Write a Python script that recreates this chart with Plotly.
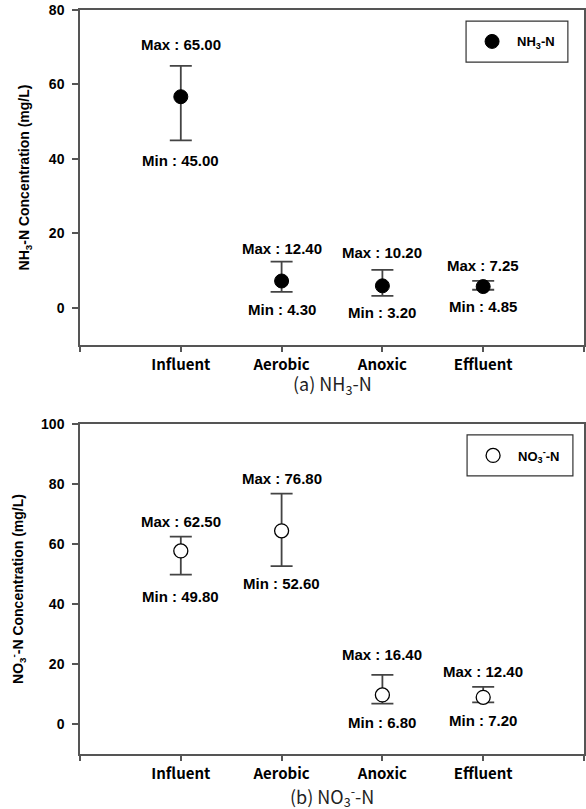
import plotly.graph_objects as go

# ---------------- data ----------------
categories = ["Influent", "Aerobic", "Anoxic", "Effluent"]
cat_pos = [1, 2, 3, 4]

nh3_mean = [56.7, 7.2, 5.9, 5.7]
nh3_max = [65.00, 12.40, 10.20, 7.25]
nh3_min = [45.00, 4.30, 3.20, 4.85]

no3_mean = [57.7, 64.4, 9.7, 8.9]
no3_max = [62.50, 76.80, 16.40, 12.40]
no3_min = [49.80, 52.60, 6.80, 7.20]

top_yticks = [0, 20, 40, 60, 80]
bot_yticks = [0, 20, 40, 60, 80, 100]

# label offsets (px) from max / min ends
nh3_max_off = [21, 13, 17, 15]
nh3_min_off = [20, 18, 17, 17]
no3_max_off = [15, 15, 20, 15]
no3_min_off = [22, 17, 19, 18]

LAB_FONT = "Liberation Sans, Arial, sans-serif"
CAT_FONT = "Noto Sans CJK KR, Noto Sans, sans-serif"
AX_COLOR = "#555555"

fig = go.Figure()

fig.add_trace(go.Scatter(
    x=cat_pos, y=nh3_mean, mode="markers", name="<b>NH<sub>3</sub>-N</b>",
    marker=dict(size=14, color="black", line=dict(color="black", width=1)),
    error_y=dict(type="data", symmetric=False,
                 array=[a - m for a, m in zip(nh3_max, nh3_mean)],
                 arrayminus=[m - b for m, b in zip(nh3_mean, nh3_min)],
                 color="#444444", thickness=1.8, width=11),
    xaxis="x", yaxis="y", legend="legend", showlegend=True,
))

fig.add_trace(go.Scatter(
    x=cat_pos, y=no3_mean, mode="markers", name="<b>NO<sub>3</sub><sup>-</sup>-N</b>",
    marker=dict(size=14, color="white", line=dict(color="black", width=1.3)),
    error_y=dict(type="data", symmetric=False,
                 array=[a - m for a, m in zip(no3_max, no3_mean)],
                 arrayminus=[m - b for m, b in zip(no3_mean, no3_min)],
                 color="#444444", thickness=1.8, width=11),
    xaxis="x2", yaxis="y2", legend="legend2", showlegend=True,
))

annotations = []


def add_labels(maxs, mins, max_off, min_off, xref, yref):
    for i, c in enumerate(cat_pos):
        annotations.append(dict(
            x=c, y=maxs[i], xref=xref, yref=yref, text="<b>Max : %.2f</b>" % maxs[i],
            showarrow=False, yanchor="middle", yshift=max_off[i],
            font=dict(family=LAB_FONT, size=15, color="black")))
        annotations.append(dict(
            x=c, y=mins[i], xref=xref, yref=yref, text="<b>Min : %.2f</b>" % mins[i],
            showarrow=False, yanchor="middle", yshift=-min_off[i],
            font=dict(family=LAB_FONT, size=15, color="black")))


add_labels(nh3_max, nh3_min, nh3_max_off, nh3_min_off, "x", "y")
add_labels(no3_max, no3_min, no3_max_off, no3_min_off, "x2", "y2")

annotations.append(dict(x=0.5, y=0.4960, xref="paper", yref="paper",
                        text="(a) NH<sub>3</sub>-N", showarrow=False,
                        xanchor="center", yanchor="middle",
                        font=dict(family=CAT_FONT, size=18, color="#222222")))
annotations.append(dict(x=0.5, y=-0.0560, xref="paper", yref="paper",
                        text="(b) NO<sub>3</sub><sup>-</sup>-N", showarrow=False,
                        xanchor="center", yanchor="middle",
                        font=dict(family=CAT_FONT, size=18, color="#222222")))

xaxis_common = dict(
    range=[0, 5], tickvals=[0] + cat_pos + [5], ticktext=[""] + categories + [""],
    showline=True, linecolor=AX_COLOR, linewidth=1.5, mirror=True,
    ticks="outside", ticklen=5, tickcolor=AX_COLOR, tickwidth=1.5,
    showgrid=False, zeroline=False, ticklabelstandoff=0, automargin=False,
    tickfont=dict(family=CAT_FONT, size=15, color="black", weight="bold"),
)
yaxis_common = dict(
    showline=True, linecolor=AX_COLOR, linewidth=1.5, mirror=True,
    ticks="outside", ticklen=6, tickcolor=AX_COLOR, tickwidth=1.5,
    showgrid=False, zeroline=False, ticklabelstandoff=5, automargin=False,
    tickfont=dict(family=LAB_FONT, size=14, color="black", weight="bold"),
)

fig.update_layout(
    width=586, height=809,
    margin=dict(l=80, r=2, t=10, b=55),
    paper_bgcolor="white", plot_bgcolor="white",
    showlegend=True,
    xaxis=dict(domain=[0, 1], anchor="y", **xaxis_common),
    yaxis=dict(domain=[0.5497, 1], anchor="x", range=[-10, 80], tickvals=top_yticks,
               title=dict(text="<b>NH<sub>3</sub>-N Concentration (mg/L)</b>", standoff=16,
                          font=dict(family=LAB_FONT, size=14, color="black")),
               **yaxis_common),
    xaxis2=dict(domain=[0, 1], anchor="y2", **xaxis_common),
    yaxis2=dict(domain=[0, 0.4435], anchor="x2", range=[-10, 100], tickvals=bot_yticks,
                title=dict(text="<b>NO<sub>3</sub><sup>-</sup>-N Concentration (mg/L)</b>", standoff=14,
                           font=dict(family=LAB_FONT, size=14, color="black")),
                **yaxis_common),
    annotations=annotations,
    legend=dict(x=0.768, y=0.9577, xanchor="left", yanchor="middle",
                bgcolor="rgba(0,0,0,0)", borderwidth=0, itemwidth=40,
                font=dict(family=LAB_FONT, size=13, color="black")),
    legend2=dict(x=0.770, y=0.4012, xanchor="left", yanchor="middle",
                 bgcolor="rgba(0,0,0,0)", borderwidth=0, itemwidth=40,
                 font=dict(family=LAB_FONT, size=13, color="black")),
    shapes=[
        dict(type="rect", xref="paper", yref="paper", x0=0.766, x1=0.968, y0=0.930, y1=0.985,
             line=dict(color="#333333", width=1.2), fillcolor="rgba(0,0,0,0)"),
        dict(type="rect", xref="paper", yref="paper", x0=0.768, x1=0.978, y0=0.3737, y1=0.4288,
             line=dict(color="#333333", width=1.2), fillcolor="rgba(0,0,0,0)"),
    ],
)

fig.write_html("out.html", config={"displayModeBar": False},
               post_script="document.body.style.margin='0px';")
